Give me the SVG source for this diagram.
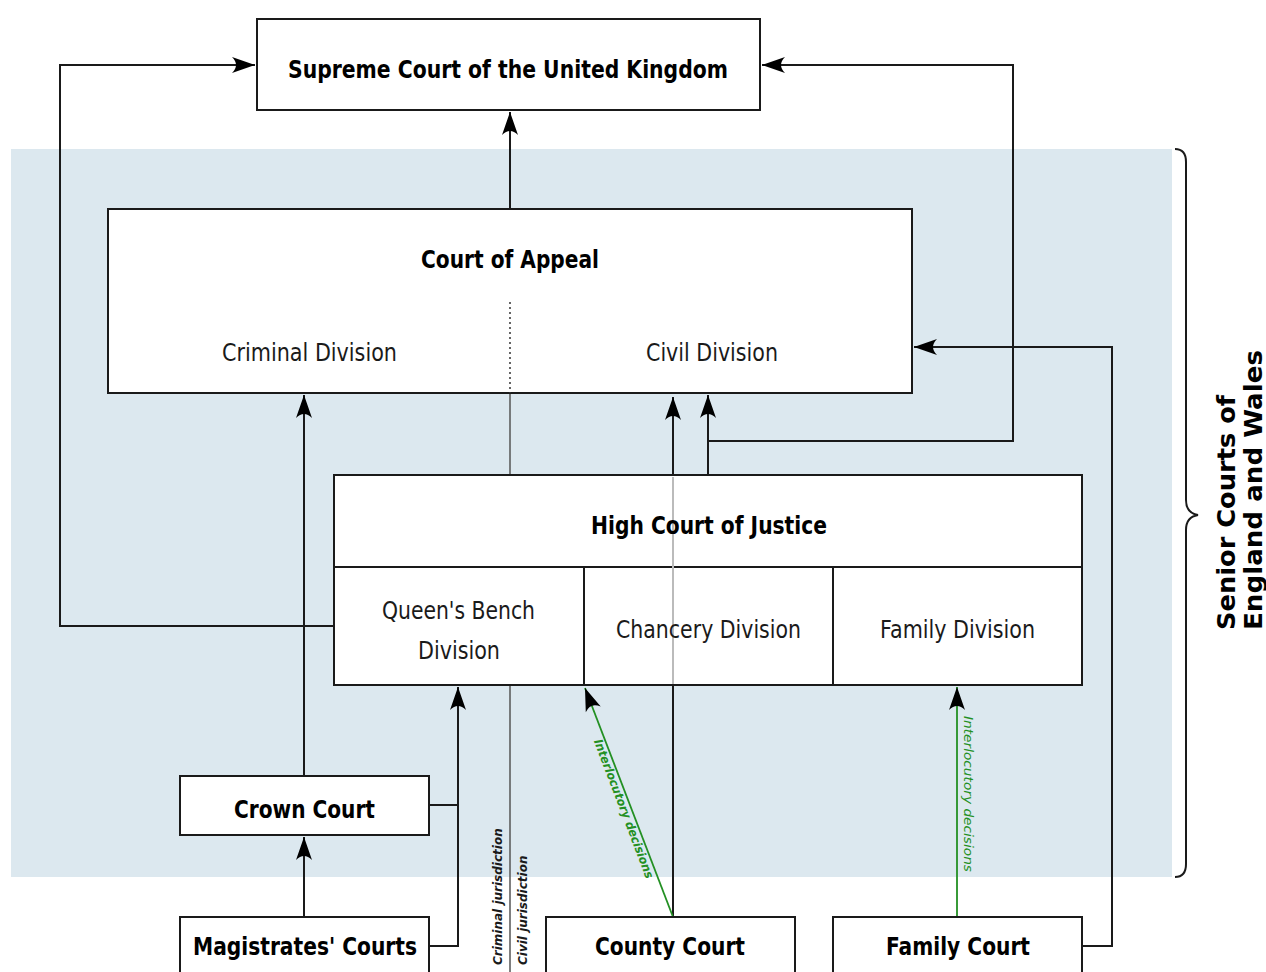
<svg xmlns="http://www.w3.org/2000/svg" width="1266" height="972" viewBox="0 0 1266 972">
<style>
.box{fill:#fff;stroke:#1a1a1a;stroke-width:2}
.ln{fill:none;stroke:#1a1a1a;stroke-width:2}
.gl{fill:none;stroke:#239023;stroke-width:1.8}
.t{font-family:"DejaVu Sans",sans-serif;font-weight:bold;font-size:25px;fill:#000;text-anchor:middle}
.n{font-family:"DejaVu Sans",sans-serif;font-size:25px;fill:#1a1a1a;text-anchor:middle}
.j{font-family:"DejaVu Sans",sans-serif;font-weight:bold;font-style:italic;font-size:12px;fill:#1a1a1a}
.g{font-family:"DejaVu Sans",sans-serif;font-style:italic;font-size:12px;fill:#239023}
.s{font-family:"DejaVu Sans",sans-serif;font-weight:bold;font-size:24px;fill:#000}
</style>
<defs>
<marker id="ar" markerUnits="userSpaceOnUse" markerWidth="28" markerHeight="20" viewBox="-26 -10 28 20" refX="0" refY="0" orient="auto">
<path d="M0,0 L-23,-8 Q-15,0 -23,8 Z" fill="#000"/>
</marker>
</defs>
<rect x="11" y="149" width="1161" height="728" fill="#dce8ef"/>

<g id="connectors">
<path class="ln" d="M510,209 V112" marker-end="url(#ar)"/>
<path class="ln" d="M334,626 H60 V65 H255" marker-end="url(#ar)"/>
<path class="ln" d="M708,475 V395" marker-end="url(#ar)"/>
<path class="ln" d="M708,441 H1013 V65 H762" marker-end="url(#ar)"/>
<path class="ln" d="M1082,946 H1112 V347 H914" marker-end="url(#ar)"/>
<path class="ln" d="M304,776 V395" marker-end="url(#ar)"/>
<path class="ln" d="M304,917 V837" marker-end="url(#ar)"/>
<path class="ln" d="M429,805 H458"/>
<path class="ln" d="M429,946 H458 V687" marker-end="url(#ar)"/>
<path class="ln" d="M673,917 V397" marker-end="url(#ar)"/>
<path d="M510,393 V475 M510,685 V972" stroke="#555" stroke-width="1.5" fill="none"/>
<path class="gl" d="M673,917 L585,688" marker-end="url(#ar)"/>
<path class="gl" d="M957,917 V687" marker-end="url(#ar)"/>
<text class="g" font-weight="bold" transform="translate(604,737) rotate(69.2)" x="0" y="11" textLength="148" lengthAdjust="spacingAndGlyphs">Interlocutory decisions</text>
<text class="g" transform="rotate(90 964 716)" x="964" y="716" textLength="156" lengthAdjust="spacingAndGlyphs">Interlocutory decisions</text>
<text class="j" transform="rotate(-90 502 965)" x="502" y="965">Criminal jurisdiction</text>
<text class="j" transform="rotate(-90 527 965)" x="527" y="965">Civil jurisdiction</text>
</g>

<g id="supreme">
<rect class="box" x="257" y="19" width="503" height="91"/>
<text class="t" x="508" y="78" textLength="440" lengthAdjust="spacingAndGlyphs">Supreme Court of the United Kingdom</text>
</g>

<g id="appeal">
<rect class="box" x="108" y="209" width="804" height="184"/>
<path d="M510,302 V393" stroke="#333" stroke-width="1.5" stroke-dasharray="2,3" fill="none"/>
<text class="t" x="510" y="268" textLength="178" lengthAdjust="spacingAndGlyphs">Court of Appeal</text>
<text class="n" x="309.5" y="361" textLength="175" lengthAdjust="spacingAndGlyphs">Criminal Division</text>
<text class="n" x="712" y="361" textLength="132" lengthAdjust="spacingAndGlyphs">Civil Division</text>
</g>

<g id="highcourt">
<rect class="box" x="334" y="475" width="748" height="210"/>
<path class="ln" d="M334,567 H1082 M584,567 V685 M833,567 V685"/>
<path d="M673,477 V684" stroke="#bbb" stroke-width="2"/>
<text class="t" x="709" y="534" textLength="236" lengthAdjust="spacingAndGlyphs">High Court of Justice</text>
<text class="n" x="458.5" y="619" textLength="153" lengthAdjust="spacingAndGlyphs">Queen's Bench</text>
<text class="n" x="459" y="659" textLength="82" lengthAdjust="spacingAndGlyphs">Division</text>
<text class="n" x="708.5" y="638" textLength="185" lengthAdjust="spacingAndGlyphs">Chancery Division</text>
<text class="n" x="957.5" y="638" textLength="155" lengthAdjust="spacingAndGlyphs">Family Division</text>
</g>

<g id="crown">
<rect class="box" x="180" y="776" width="249" height="59"/>
<text class="t" x="304.5" y="818" textLength="141" lengthAdjust="spacingAndGlyphs">Crown Court</text>
</g>
<g id="magistrates">
<rect class="box" x="180" y="917" width="249" height="70"/>
<text class="t" x="305" y="955" textLength="224" lengthAdjust="spacingAndGlyphs">Magistrates' Courts</text>
</g>
<g id="county">
<rect class="box" x="546" y="917" width="249" height="70"/>
<text class="t" x="670" y="955" textLength="150" lengthAdjust="spacingAndGlyphs">County Court</text>
</g>
<g id="family">
<rect class="box" x="833" y="917" width="249" height="70"/>
<text class="t" x="958" y="955" textLength="144" lengthAdjust="spacingAndGlyphs">Family Court</text>
</g>

<g id="senior">
<path class="ln" d="M1175,149 Q1186,149 1186,162 V500 Q1186,513 1198,515 Q1186,517 1186,530 V864 Q1186,877 1175,877"/>
<text class="s" transform="rotate(-90 1235 630)" x="1235" y="630" textLength="235" lengthAdjust="spacingAndGlyphs">Senior Courts of</text>
<text class="s" transform="rotate(-90 1262 630)" x="1262" y="630" textLength="280" lengthAdjust="spacingAndGlyphs">England and Wales</text>
</g>
</svg>
